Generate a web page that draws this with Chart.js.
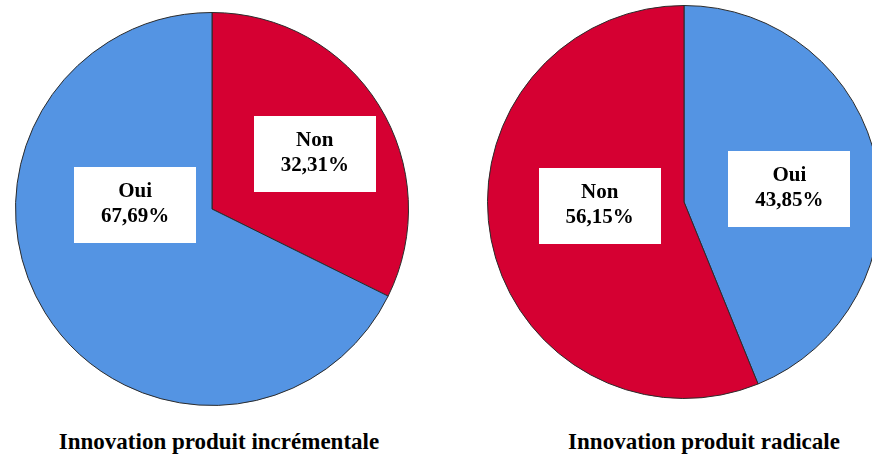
<!doctype html>
<html lang="fr">
<head>
    <meta charset="UTF-8">
    <title>Innovation produit</title>
    <style>
        html, body { margin: 0; padding: 0; background: #fff; }
        body { width: 872px; height: 454px; position: relative; overflow: hidden; }
        .pie { position: absolute; }
        .titre {
            position: absolute; top: 429px; text-align: center; line-height: 24px;
            font: bold 23px "Liberation Serif", "Times New Roman", serif; color: #000;
            white-space: nowrap;
        }
    </style>
</head>
<body>
    <div class="pie" style="left: 15px; top: 12px;"><canvas id="pieIncr" width="394" height="394"></canvas></div>
    <div class="pie" style="left: 487px; top: 5px;"><canvas id="pieRad" width="394" height="394"></canvas></div>
    <div class="titre" id="titreIncr" style="left: 19px; width: 400px;"></div>
    <div class="titre" id="titreRad" style="left: 554px; width: 300px;"></div>
</body>
<script src="https://cdn.jsdelivr.net/npm/chart.js"></script>
<script>
    // données
    var titres = ['Innovation produit incrémentale', 'Innovation produit radicale'];
    var labelsIncr = ['Non', 'Oui'];
    var valeursIncr = [32.31, 67.69];
    var labelsRad = ['Oui', 'Non'];
    var valeursRad = [43.85, 56.15];

    var BLEU = 'rgb(84, 148, 227)';
    var ROUGE = 'rgb(213, 0, 50)';
    function couleur(l) { return l === 'Oui' ? BLEU : ROUGE; }

    // étiquettes dans un cadre blanc
    var boxLabels = {
        id: 'boxLabels',
        afterDatasetsDraw: function(chart, args, opts) {
            var ctx = chart.ctx;
            var meta = chart.getDatasetMeta(0);
            var data = chart.data.datasets[0].data;
            ctx.save();
            ctx.font = 'bold 21px "Liberation Serif", "Times New Roman", serif';
            ctx.textAlign = 'center';
            ctx.textBaseline = 'alphabetic';
            meta.data.forEach(function(arc, i) {
                var r = arc.outerRadius;
                var cx = arc.x + opts.anchors[i][0] * r;
                var cy = arc.y + opts.anchors[i][1] * r;
                var l1 = chart.data.labels[i];
                var l2 = data[i].toFixed(2).replace('.', ',') + '%';
                var w = Math.max(ctx.measureText(l1).width, ctx.measureText(l2).width) + 54;
                var h = 76;
                ctx.fillStyle = '#fff';
                ctx.fillRect(Math.round(cx - w / 2), Math.round(cy - h / 2), Math.round(w), h);
                ctx.fillStyle = '#000';
                ctx.fillText(l1, cx, cy - 8);
                ctx.fillText(l2, cx, cy + 17);
            });
            ctx.restore();
        }
    };

    function camembert(id, labels, valeurs, anchors) {
        var ctx = document.getElementById(id).getContext('2d');
        return new Chart(ctx, {
            type: 'pie',
            data: {
                labels: labels,
                datasets: [{
                    data: valeurs,
                    backgroundColor: labels.map(couleur),
                    borderColor: '#2b2b2b',
                    borderWidth: 1
                }]
            },
            options: {
                responsive: false,
                animation: false,
                layout: { padding: 0 },
                plugins: {
                    legend: { display: false },
                    tooltip: { enabled: false },
                    boxLabels: { anchors: anchors }
                }
            },
            plugins: [boxLabels]
        });
    }

    camembert('pieIncr', labelsIncr, valeursIncr, [[0.523, -0.282], [-0.391, -0.02]]);
    camembert('pieRad', labelsRad, valeursRad, [[0.536, -0.066], [-0.429, 0.018]]);

    document.getElementById('titreIncr').textContent = titres[0];
    document.getElementById('titreRad').textContent = titres[1];
</script>
</html>
